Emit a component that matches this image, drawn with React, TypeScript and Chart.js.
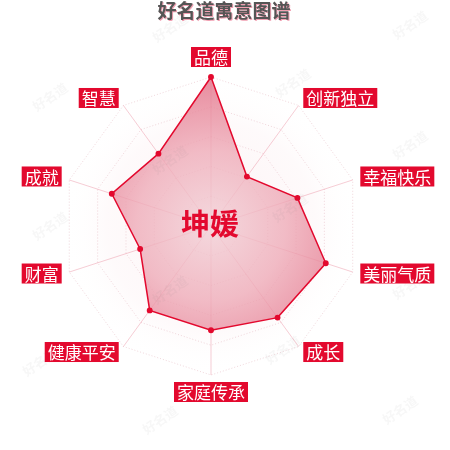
import React, { useEffect, useRef } from 'react';
import { Chart, registerables } from 'chart.js';

Chart.register(...registerables);

const categories = ['品德', '创新独立', '幸福快乐', '美丽气质', '成长', '家庭传承', '健康平安', '财富', '成就', '智慧'];
const values = [100, 41, 61, 81, 76, 70, 70, 50, 70, 60];
const titleText = '好名道寓意图谱';
const nameText = '坤媛';
const markText = '好名道';

const RED = '#e3092e';
const CJK = '"Noto Sans CJK SC", "Noto Sans", sans-serif';

// where the faint watermark stamps sit
const marks = [
  [170, 28], [410, 25], [50, 97], [293, 83], [170, 160], [410, 145],
  [50, 226], [290, 208], [170, 290], [410, 285], [40, 362], [283, 350],
  [160, 420], [400, 410],
];

const decorPlugin = {
  id: 'decor',
  beforeDraw(chart: any) {
    const { ctx, width, height } = chart;
    const s = chart.scales.r;
    ctx.save();
    ctx.fillStyle = '#fff';
    ctx.fillRect(0, 0, width, height);
    // very soft pink disc behind the web
    const g = ctx.createRadialGradient(s.xCenter, s.yCenter, 0, s.xCenter, s.yCenter, s.drawingArea);
    g.addColorStop(0, 'rgba(240,190,200,0.2)');
    g.addColorStop(0.7, 'rgba(245,205,212,0.1)');
    g.addColorStop(1, 'rgba(255,255,255,0)');
    ctx.fillStyle = g;
    ctx.beginPath();
    ctx.arc(s.xCenter, s.yCenter, s.drawingArea, 0, Math.PI * 2);
    ctx.fill();
    ctx.restore();
  },
  afterDatasetsDraw(chart: any) {
    const { ctx } = chart;
    const s = chart.scales.r;
    ctx.save();

    // watermarks
    ctx.font = `bold 13px ${CJK}`;
    ctx.fillStyle = 'rgba(120,120,120,0.06)';
    ctx.textAlign = 'center';
    ctx.textBaseline = 'middle';
    marks.forEach(([x, y]) => {
      ctx.save();
      ctx.translate(x, y);
      ctx.rotate(-0.6);
      ctx.fillText(markText, 0, 0);
      ctx.restore();
    });

    // title
    ctx.font = `bold 19px ${CJK}`;
    ctx.textAlign = 'center';
    ctx.textBaseline = 'middle';
    ctx.shadowColor = 'rgba(235,120,145,0.7)';
    ctx.shadowOffsetX = 1;
    ctx.shadowOffsetY = 1;
    ctx.fillStyle = '#555';
    ctx.fillText(titleText, 224, 11);
    ctx.shadowColor = 'transparent';

    // axis names in red boxes
    ctx.font = `17px ${CJK}`;
    categories.forEach((label, i) => {
      const p = s.getPointPosition(i, 157);
      const dx = p.x - s.xCenter;
      const dy = p.y - s.yCenter;
      const w = ctx.measureText(label).width + 6;
      const h = 20;
      let left: number;
      let top: number;
      if (Math.abs(dx) < 2) {
        left = p.x - w / 2;
        top = dy < 0 ? p.y - 2 - h : p.y - 1;
      } else {
        left = dx > 0 ? p.x : p.x - w;
        top = p.y - 1 - h / 2;
      }
      ctx.fillStyle = RED;
      ctx.fillRect(left, top, w, h);
      ctx.fillStyle = '#fff';
      ctx.textAlign = 'center';
      ctx.textBaseline = 'middle';
      ctx.fillText(label, left + w / 2, top + h / 2 + 1);
    });

    // name in the middle
    ctx.font = `bold 29px ${CJK}`;
    ctx.fillStyle = RED;
    ctx.fillText(nameText, 210, 224);
    ctx.restore();
  },
};

const App = () => {
  const chartRef = useRef<HTMLCanvasElement | null>(null);

  useEffect(() => {
    const canvas = chartRef.current;
    if (!canvas) return;
    const ctx = canvas.getContext('2d');
    if (!ctx) return;

    const chart = new Chart(ctx, {
      type: 'radar',
      data: {
        labels: categories,
        datasets: [
          {
            data: values,
            borderColor: RED,
            borderWidth: 1.5,
            pointRadius: 2.2,
            pointBackgroundColor: RED,
            pointBorderColor: RED,
            backgroundColor: (c: any) => {
              const s = c.chart.scales.r;
              if (!s || !s.drawingArea) return 'rgba(228,110,135,0.55)';
              const g = c.chart.ctx.createRadialGradient(s.xCenter, s.yCenter, 0, s.xCenter, s.yCenter, s.drawingArea);
              g.addColorStop(0, 'rgba(242,210,216,0.8)');
              g.addColorStop(0.5, 'rgba(238,170,183,0.78)');
              g.addColorStop(1, 'rgba(226,110,133,0.8)');
              return g;
            },
          },
        ],
      },
      options: {
        responsive: true,
        maintainAspectRatio: false,
        animation: false,
        layout: { padding: { left: 62, right: 90, top: 77, bottom: 75 } },
        plugins: {
          legend: { display: false },
          tooltip: { enabled: false },
          title: { display: false },
        },
        scales: {
          r: {
            min: 0,
            max: 100,
            ticks: { display: false, stepSize: 20 },
            pointLabels: { display: false },
            grid: { color: 'rgba(225,175,185,0.5)', lineWidth: 1 },
            border: { dash: [1, 2] },
            angleLines: { color: 'rgba(232,130,150,0.4)', lineWidth: 1 },
          },
        },
      },
      plugins: [decorPlugin],
    });

    return () => {
      chart.destroy();
    };
  }, []);

  return (
    <div style={{ position: 'fixed', left: 0, top: 0, width: 450, height: 450, background: '#fff' }}>
      <canvas ref={chartRef} />
    </div>
  );
};

export default App;
